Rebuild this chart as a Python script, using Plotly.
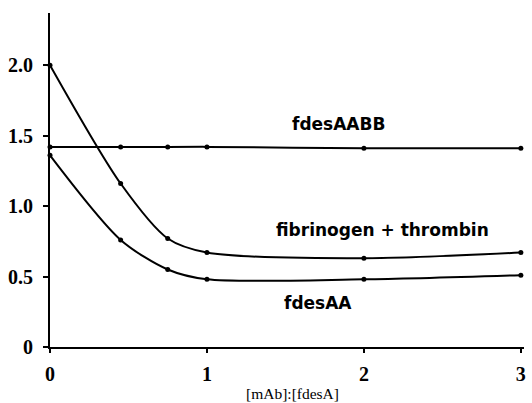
import plotly.graph_objects as go

x_vals = [0, 0.45, 0.75, 1, 2, 3]
fdesAABB = [1.42, 1.42, 1.42, 1.42, 1.41, 1.41]
fib_thrombin = [2.0, 1.16, 0.77, 0.67, 0.63, 0.67]
fdesAA = [1.36, 0.76, 0.55, 0.48, 0.48, 0.51]

labels = ["fdesAABB", "fibrinogen + thrombin", "fdesAA"]
label_x = [1.84, 2.12, 1.71]
label_y = [1.58, 0.83, 0.31]

x_ticks = [0, 1, 2, 3]
y_ticks = [0, 0.5, 1.0, 1.5, 2.0]
y_ticktext = ["0", "0.5", "1.0", "1.5", "2.0"]

fig = go.Figure()
for ys in [fdesAABB, fib_thrombin, fdesAA]:
    fig.add_trace(go.Scatter(
        x=x_vals, y=ys, mode="lines+markers",
        line=dict(color="black", width=2, shape="spline", smoothing=0.8),
        marker=dict(color="black", size=5),
        showlegend=False, cliponaxis=False))

for t, lx, ly in zip(labels, label_x, label_y):
    fig.add_annotation(x=lx, y=ly, text=t, showarrow=False,
                       font=dict(family="DejaVu Sans", size=17, color="black", weight="bold"))

fig.add_annotation(x=0.512, xref="paper", y=-0.108, yref="paper", yanchor="top",
                   text="[mAb]:[fdesA]", showarrow=False,
                   font=dict(family="Liberation Serif", size=15.5, color="black"))

fig.update_layout(
    width=532, height=403,
    margin=dict(l=50, r=8, t=13, b=56),
    plot_bgcolor="white", paper_bgcolor="white",
    xaxis=dict(range=[0, 3.02], tickvals=x_ticks, ticktext=[str(v) for v in x_ticks],
               automargin=False,
               showline=True, linecolor="black", linewidth=2, showgrid=False, zeroline=False,
               ticks="outside", ticklen=4, tickwidth=2, tickcolor="black",
               ticklabelstandoff=4,
               tickfont=dict(family="Liberation Serif", size=20, color="black", weight="bold")),
    yaxis=dict(range=[0, 2.37], tickvals=y_ticks, ticktext=y_ticktext,
               automargin=False,
               showline=True, linecolor="black", linewidth=2, showgrid=False, zeroline=False,
               ticks="outside", ticklen=5, tickwidth=2, tickcolor="black",
               ticklabelstandoff=6,
               tickfont=dict(family="Liberation Serif", size=20, color="black", weight="bold")),
)

fig.write_html("out.html", config={"displayModeBar": False},
               post_script="document.body.style.margin='0';document.body.style.overflow='hidden';")
